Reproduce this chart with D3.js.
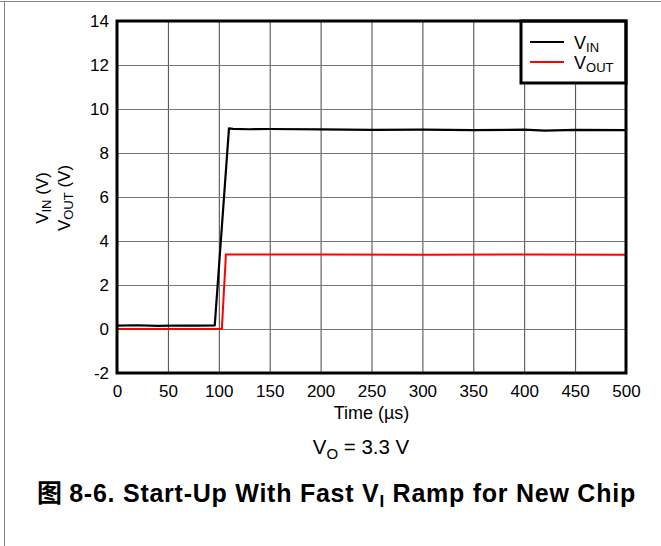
<!DOCTYPE html>
<html>
<head>
<meta charset="utf-8">
<script src="https://cdn.jsdelivr.net/npm/d3@7"></script>
<style>
  body { margin: 0; background: #fff; }
  text { font-family: Arial, "Liberation Sans", sans-serif; fill: #000; }
</style>
</head>
<body>
<div id="chart"></div>
<script>
const vinTime = [0, 20, 40, 60, 80, 96, 110, 114, 130, 150, 200, 250, 300, 350, 400, 420, 450, 500];
const vinVolt = [0.15, 0.17, 0.14, 0.16, 0.15, 0.16, 9.12, 9.1, 9.08, 9.09, 9.07, 9.05, 9.06, 9.04, 9.06, 9.02, 9.05, 9.04];
const voutTime = [0, 103, 107, 200, 300, 400, 500];
const voutVolt = [0, 0, 3.39, 3.39, 3.38, 3.39, 3.38];
const xTicks = [0, 50, 100, 150, 200, 250, 300, 350, 400, 450, 500];
const yTicks = [-2, 0, 2, 4, 6, 8, 10, 12, 14];

const W = 661, H = 546;
const margin = { top: 21, right: 35, bottom: 173, left: 117 };
const width = W - margin.left - margin.right;
const height = H - margin.top - margin.bottom;
const FONT = "Arial, 'Liberation Sans', sans-serif";

const root = d3.select("#chart").append("svg").attr("width", W).attr("height", H);

// page frame lines
root.append("line").attr("x1", 0).attr("x2", W).attr("y1", 1.5).attr("y2", 1.5)
  .attr("stroke", "#888").attr("stroke-width", 1);
root.append("line").attr("x1", 4.5).attr("x2", 4.5).attr("y1", 1).attr("y2", H)
  .attr("stroke", "#888").attr("stroke-width", 1);

const svg = root.append("g").attr("transform", `translate(${margin.left},${margin.top})`);

const x = d3.scaleLinear().domain([0, 500]).range([0, width]);
const y = d3.scaleLinear().domain([-2, 14]).range([height, 0]);

// grid
svg.append("g")
  .attr("transform", `translate(0,${height})`)
  .call(d3.axisBottom(x).tickValues(xTicks).tickSize(-height).tickFormat(""))
  .call(g => g.select(".domain").remove())
  .call(g => g.selectAll("line").attr("stroke", "#444"));
svg.append("g")
  .call(d3.axisLeft(y).tickValues(yTicks).tickSize(-width).tickFormat(""))
  .call(g => g.select(".domain").remove())
  .call(g => g.selectAll("line").attr("stroke", "#777"));

// tick labels
svg.append("g")
  .attr("transform", `translate(0,${height})`)
  .call(d3.axisBottom(x).tickValues(xTicks).tickSize(0).tickPadding(12))
  .call(g => g.select(".domain").remove())
  .call(g => g.selectAll("text").attr("font-size", 17).style("font-family", FONT));
svg.append("g")
  .call(d3.axisLeft(y).tickValues(yTicks).tickSize(0).tickPadding(8)
    .tickFormat(d => d < 0 ? "-" + Math.abs(d) : d))
  .call(g => g.select(".domain").remove())
  .call(g => g.selectAll("text").attr("font-size", 17).style("font-family", FONT));

// traces
const line = d3.line().x(d => x(d[0])).y(d => y(d[1]));
svg.append("path")
  .datum(d3.zip(voutTime, voutVolt))
  .attr("fill", "none").attr("stroke", "#ff0000").attr("stroke-width", 2)
  .attr("d", line);
svg.append("path")
  .datum(d3.zip(vinTime, vinVolt))
  .attr("fill", "none").attr("stroke", "#000").attr("stroke-width", 2.2)
  .attr("stroke-linejoin", "round")
  .attr("d", line);

// legend
const lg = svg.append("g").attr("transform", `translate(${width - 105},0)`);
lg.append("rect").attr("width", 105).attr("height", 62).attr("fill", "#fff");
const legendItems = [["IN", "#000"], ["OUT", "#ff0000"]];
legendItems.forEach((it, i) => {
  const yy = 21 + i * 20;
  lg.append("line").attr("x1", 9).attr("x2", 43).attr("y1", yy).attr("y2", yy)
    .attr("stroke", it[1]).attr("stroke-width", 2);
  const t = lg.append("text").attr("x", 53).attr("y", yy + 7).attr("font-size", 18);
  t.append("tspan").text("V");
  t.append("tspan").attr("font-size", 13).attr("dy", 3).text(it[0]);
});
lg.append("rect").attr("width", 105).attr("height", 62)
  .attr("fill", "none").attr("stroke", "#000").attr("stroke-width", 3);

// frame
svg.append("rect").attr("width", width).attr("height", height)
  .attr("fill", "none").attr("stroke", "#000").attr("stroke-width", 3);

// y label, two rotated lines
const ylab = [["IN", 48], ["OUT", 70]];
ylab.forEach(d => {
  const t = root.append("text")
    .attr("transform", `translate(${d[1]},198) rotate(-90)`)
    .attr("text-anchor", "middle").attr("font-size", 17);
  t.append("tspan").text("V");
  t.append("tspan").attr("font-size", 13).attr("dy", 3).text(d[0]);
  t.append("tspan").attr("dy", -3).text(" (V)");
});

// x label
root.append("text").attr("x", margin.left + width / 2).attr("y", 419)
  .attr("text-anchor", "middle").attr("font-size", 18).text("Time (\u00b5s)");

// condition note
const note = root.append("text").attr("x", 361).attr("y", 454)
  .attr("text-anchor", "middle").attr("font-size", 20.5);
note.append("tspan").text("V");
note.append("tspan").attr("font-size", 15).attr("dy", 5).text("O");
note.append("tspan").attr("dy", -5).text(" = 3.3 V");

// caption
const cap = root.append("text").attr("x", 37).attr("y", 502)
  .attr("font-size", 25).attr("font-weight", "bold").attr("letter-spacing", 0.75);
cap.append("tspan").style("font-family", "'Noto Sans CJK SC', sans-serif").text("图 ");
cap.append("tspan").text("8-6. Start-Up With Fast V");
cap.append("tspan").attr("font-size", 17).attr("dy", 5).text("I");
cap.append("tspan").attr("dy", -5).text(" Ramp for New Chip");
</script>
</body>
</html>
